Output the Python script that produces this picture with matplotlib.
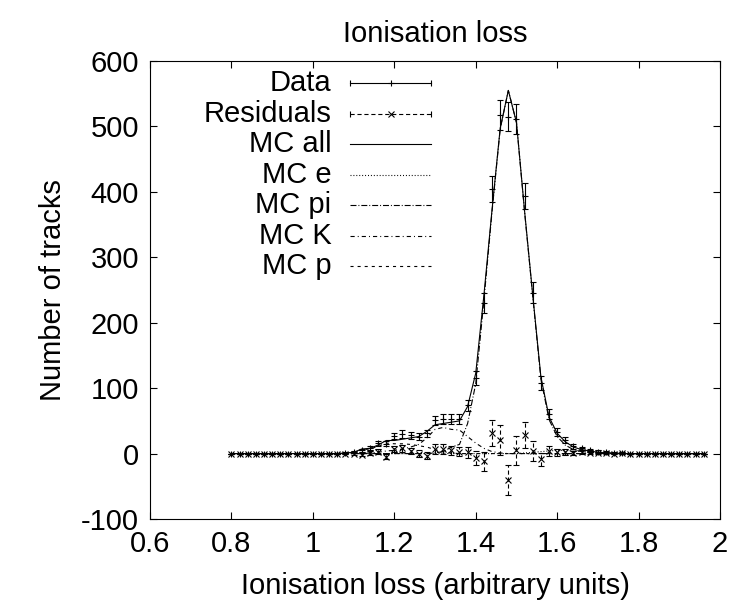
import numpy as np
import matplotlib
matplotlib.use('Agg')
import matplotlib.pyplot as plt

plt.rcParams['font.family'] = ['Liberation Sans', 'DejaVu Sans']
plt.rcParams['lines.scale_dashes'] = False

# bin centres (arbitrary units)
x = [0.80, 0.82, 0.84, 0.86, 0.88, 0.90, 0.92, 0.94, 0.96, 0.98,
     1.00, 1.02, 1.04, 1.06, 1.08, 1.10, 1.12, 1.14, 1.16, 1.18,
     1.20, 1.22, 1.24, 1.26, 1.28, 1.30, 1.32, 1.34, 1.36, 1.38,
     1.40, 1.42, 1.44, 1.46, 1.48, 1.50, 1.52, 1.54, 1.56, 1.58,
     1.60, 1.62, 1.64, 1.66, 1.68, 1.70, 1.72, 1.74, 1.76, 1.78,
     1.80, 1.82, 1.84, 1.86, 1.88, 1.90, 1.92, 1.94, 1.96]

data = [0, 0, 0, 0, 0, 0, 0, 0, 0, 0,
        0, 0, 0, 0, 1, 2, 5, 9, 16, 15,
        27, 30, 28, 26, 31, 51, 53, 53, 53, 74,
        116, 230, 404, 518, 515, 511, 394, 246, 108, 60,
        33, 21, 11, 8, 5, 3, 2, 1, 1, 0,
        0, 0, 0, 0, 0, 0, 0, 0, 0]

resid = [0, 0, 0, 0, 0, 0, 0, 0, 0, 0,
         0, 0, 0, 0, 0, 0, -2, 1, 3, -5,
         7, 8, 4, 0, -3, 7, 7, 5, 3, 2,
         -7, -12, 31, 21, -40, 5, 29, 4, -9, 4,
         2, 3, 1, 2, 1, 1, 1, 0, 1, 0,
         0, 0, 0, 0, 0, 0, 0, 0, 0]

mc_all = [0, 0, 0, 0, 0, 0, 0, 0, 0, 0,
          0, 0, 0, 0, 1, 2, 7, 8, 13, 20,
          20, 22, 24, 26, 34, 44, 46, 48, 50, 72,
          123, 242, 373, 497, 555, 506, 370, 242, 117, 56,
          31, 18, 10, 6, 4, 2, 1, 1, 0, 0,
          0, 0, 0, 0, 0, 0, 0, 0, 0]

mc_e = [0, 0, 0, 0, 0, 0, 0, 0, 0, 0,
        0, 0, 0, 0, 0, 0, 0, 0, 0, 0,
        0, 0, 0, 0, 0, 0, 0, 0, 0, 0,
        0, 0, 0, 0, 0, 0, 1, 2, 3, 4,
        5, 5, 4, 3, 2, 1, 1, 1, 0, 0,
        0, 0, 0, 0, 0, 0, 0, 0, 0]

mc_pi = [0, 0, 0, 0, 0, 0, 0, 0, 0, 0,
         0, 0, 0, 0, 0, 0, 0, 0, 0, 0,
         0, 0, 0, 0, 0, 1, 3, 10, 14, 46,
         107, 234, 370, 496, 555, 506, 369, 240, 114, 52,
         26, 13, 6, 3, 2, 1, 0, 0, 0, 0,
         0, 0, 0, 0, 0, 0, 0, 0, 0]

mc_k = [0, 0, 0, 0, 0, 0, 0, 0, 0, 0,
        0, 0, 0, 0, 0, 0, 0, 1, 2, 4,
        5, 7, 10, 14, 24, 37, 40, 37, 36, 26,
        16, 8, 3, 1, 0, 0, 0, 0, 0, 0,
        0, 0, 0, 0, 0, 0, 0, 0, 0, 0,
        0, 0, 0, 0, 0, 0, 0, 0, 0]

mc_p = [0, 0, 0, 0, 0, 0, 0, 0, 0, 0,
        0, 0, 0, 0, 1, 2, 6, 7, 11, 16,
        15, 15, 14, 12, 10, 6, 3, 1, 0, 0,
        0, 0, 0, 0, 0, 0, 0, 0, 0, 0,
        0, 0, 0, 0, 0, 0, 0, 0, 0, 0,
        0, 0, 0, 0, 0, 0, 0, 0, 0]

# gnuplot-like line types (points)
LS_RES = (0, (3.0, 2.0))
LS_E = (0, (0.7, 1.4))
LS_PI = (0, (4.3, 1.4, 0.7, 1.4))
LS_K = (0, (3.0, 2.2, 0.7, 2.2))
LS_P = (0, (2.2, 2.9))
LW = 0.8
FS = 21

fig = plt.figure(figsize=(7.34, 6.13), dpi=100)
ax = fig.add_axes([0.2044, 0.1533, 0.7766, 0.7472])

ax.plot(x, mc_all, color='black', lw=LW)
ax.plot(x, mc_e, color='black', lw=LW, ls=LS_E)
ax.plot(x, mc_pi, color='black', lw=LW, ls=LS_PI)
ax.plot(x, mc_k, color='black', lw=LW, ls=LS_K)
ax.plot(x, mc_p, color='black', lw=LW, ls=LS_P)

err = np.sqrt(np.array(data, dtype=float))
ax.errorbar(x, data, yerr=err, fmt='+', color='black', ms=5, mew=LW,
            elinewidth=LW, capsize=2.5, capthick=LW)
eb = ax.errorbar(x, resid, yerr=err, fmt='x', color='black', ms=4.5, mew=LW,
                 elinewidth=LW, capsize=2.5, capthick=LW)
eb[2][0].set_linestyle(LS_RES)

ax.set_xlim(0.6, 2.0)
ax.set_ylim(-100, 600)
ax.set_xticks([0.6, 0.8, 1.0, 1.2, 1.4, 1.6, 1.8, 2.0])
ax.set_xticklabels(['0.6', '0.8', '1', '1.2', '1.4', '1.6', '1.8', '2'])
ax.set_yticks([-100, 0, 100, 200, 300, 400, 500, 600])
ax.set_yticklabels(['-100', '0', '100', '200', '300', '400', '500', '600'])
ax.tick_params(direction='in', top=True, right=True, length=5, width=0.8,
               labelsize=FS, pad=8)
for s in ax.spines.values():
    s.set_linewidth(0.8)

ax.set_title('Ionisation loss', fontsize=FS, pad=14)
ax.set_xlabel('Ionisation loss (arbitrary units)', fontsize=FS, labelpad=10)
ax.set_ylabel('Number of tracks', fontsize=FS, labelpad=10)

# key, gnuplot style: right-aligned labels with samples to the right
labels = ['Data', 'Residuals', 'MC all', 'MC e', 'MC pi', 'MC K', 'MC p']
styles = ['-', LS_RES, '-', LS_E, LS_PI, LS_K, LS_P]
tx, x0, x1 = 0.318, 0.3515, 0.4926
y0, dy = 0.951, 0.0665
tr = ax.transAxes
for i, (lab, ls) in enumerate(zip(labels, styles)):
    yy = y0 - i * dy
    ax.text(tx, yy, lab, transform=tr, ha='right', va='center', fontsize=FS)
    ax.plot([x0, x1], [yy, yy], transform=tr, color='black', lw=LW, ls=ls,
            clip_on=False)
    if i < 2:
        ax.plot([x0, x1], [yy, yy], transform=tr, ls='none', marker='|',
                ms=5, mew=LW, color='black')
        ax.plot([(x0 + x1) / 2], [yy], transform=tr, ls='none',
                marker='+' if i == 0 else 'x', ms=5 if i == 0 else 4.5,
                mew=LW, color='black')

fig.savefig('out.png', dpi=100)
